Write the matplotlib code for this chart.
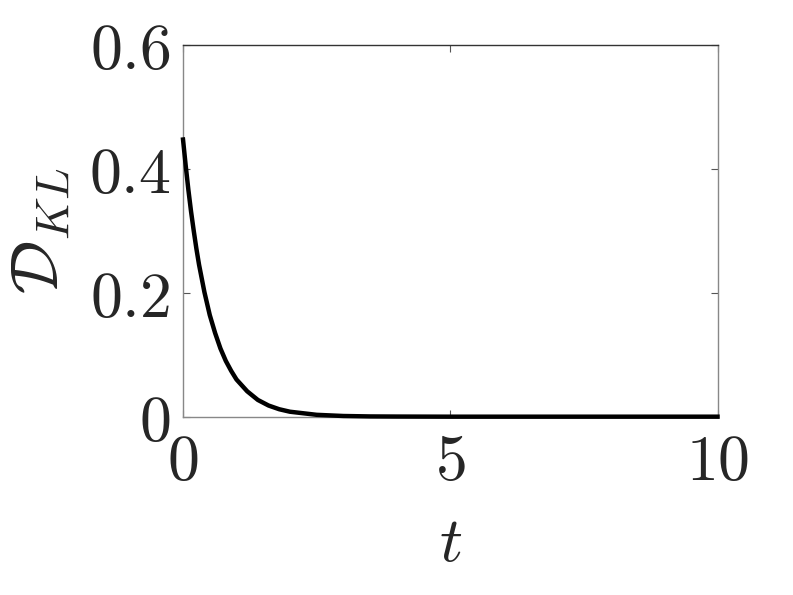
import matplotlib
matplotlib.use('Agg')
import matplotlib.pyplot as plt

# values
t_vals = [0.0, 0.05, 0.1, 0.15, 0.2, 0.25, 0.3, 0.4, 0.5, 0.6, 0.7, 0.8, 0.9,
          1.0, 1.2, 1.4, 1.6, 1.8, 2.0, 2.5, 3.0, 3.5, 4.0, 5.0, 6.0, 8.0, 10.0]
kl_vals = [0.447, 0.405, 0.366, 0.331, 0.300, 0.271, 0.245, 0.201, 0.164,
           0.135, 0.110, 0.090, 0.074, 0.060, 0.041, 0.027, 0.018, 0.012,
           0.008, 0.003, 0.0011, 0.0004, 0.0002, 0.0, 0.0, 0.0, 0.0]

x_ticks = [0, 5, 10]
x_labels = ['$0$', '$5$', '$10$']
y_ticks = [0, 0.2, 0.4, 0.6]
y_labels = ['$0$', '$0.2$', '$0.4$', '$0.6$']

plt.rcParams['mathtext.fontset'] = 'cm'
plt.rcParams['font.family'] = ['DejaVu Serif']

FS = 46
GRAY = '#262626'

fig = plt.figure(figsize=(7.93, 5.95), dpi=100)
ax = fig.add_axes([0.2308, 0.2997, 0.6740, 0.6252])

ax.plot(t_vals, kl_vals, color='black', linewidth=3.2, clip_on=False, zorder=5)

ax.set_xlim(0, 10)
ax.set_ylim(0, 0.6)
ax.set_xticks(x_ticks)
ax.set_xticklabels(x_labels)
ax.set_yticks(y_ticks)
ax.set_yticklabels(y_labels)

ax.tick_params(axis='both', direction='in', length=5, width=0.8, color='#555555',
               labelsize=FS, labelcolor=GRAY, top=True, right=True)
ax.tick_params(axis='x', pad=11)
ax.tick_params(axis='y', pad=9)

for side in ['left', 'bottom', 'right']:
    ax.spines[side].set_color('#888888')
    ax.spines[side].set_linewidth(1.0)
ax.spines['top'].set_color('#333333')
ax.spines['top'].set_linewidth(1.0)

ax.set_xlabel('$t$', fontsize=FS, color=GRAY, labelpad=14)
ax.set_ylabel(r'$\mathcal{D}_{KL}$', fontsize=48, color=GRAY, labelpad=12)

fig.savefig('out.png', dpi=100)
